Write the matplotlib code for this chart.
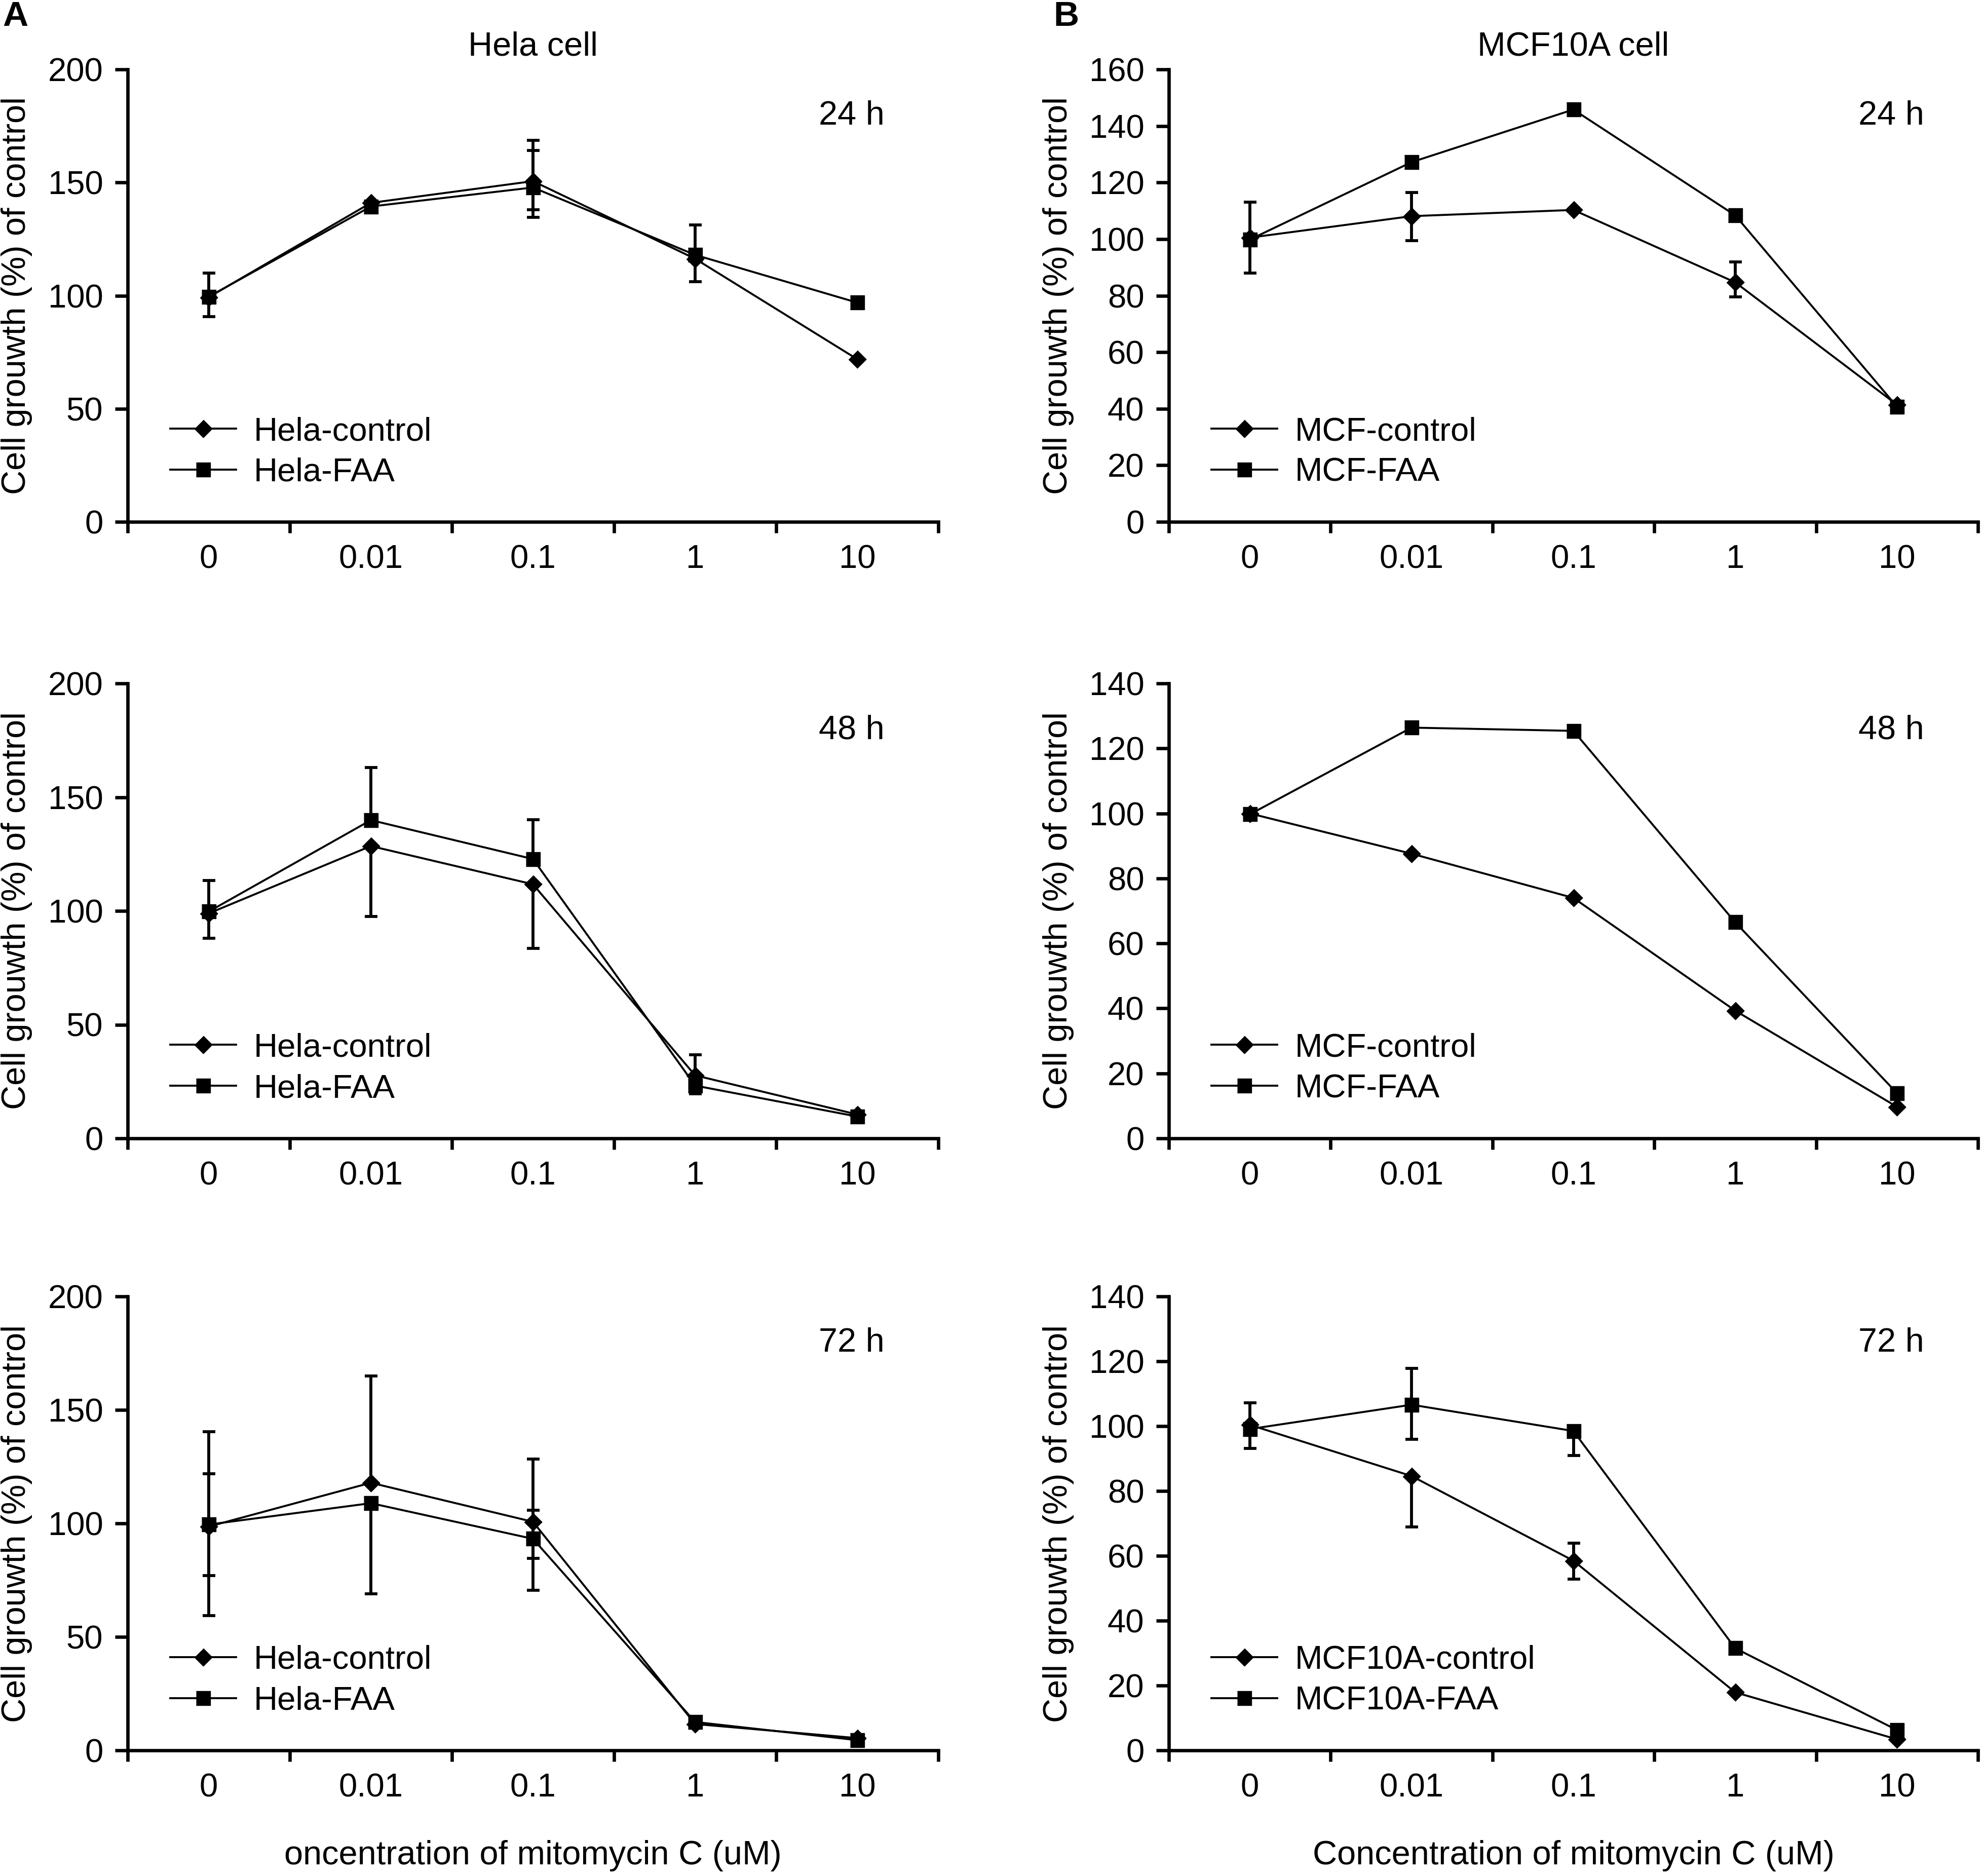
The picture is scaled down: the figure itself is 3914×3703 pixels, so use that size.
import numpy as np
import matplotlib
matplotlib.use('Agg')
import matplotlib.pyplot as plt
from matplotlib.ticker import FixedLocator, MultipleLocator

plt.rcParams['font.family'] = ['Liberation Sans', 'DejaVu Sans']

# ---------------- data ----------------
conc_labels = ['0', '0.01', '0.1', '1', '10']

# Hela 24 h
hela_ctrl_24 = [99.3, 141.0, 150.6, 116.3, 71.9]
hela_faa_24 = [99.5, 139.4, 147.8, 118.0, 96.9]
hela_ctrl_24_lo = [8.7, 0, 16.0, 0, 0]
hela_ctrl_24_hi = [10.7, 0, 18.0, 0, 0]
hela_faa_24_lo = [0, 0, 9.9, 11.8, 0]
hela_faa_24_hi = [0, 0, 16.4, 13.2, 0]

# Hela 48 h
hela_ctrl_48 = [98.9, 128.5, 111.7, 27.7, 10.5]
hela_faa_48 = [99.7, 139.9, 122.8, 23.2, 9.6]
hela_ctrl_48_lo = [11.0, 30.9, 28.2, 0, 0]
hela_ctrl_48_hi = [14.4, 0, 0, 9.0, 0]
hela_faa_48_lo = [0, 0, 0, 3.6, 0]
hela_faa_48_hi = [0, 23.1, 17.4, 0, 0]

# Hela 72 h
hela_ctrl_72 = [98.6, 117.9, 100.7, 11.6, 5.4]
hela_faa_72 = [99.5, 108.9, 93.2, 12.5, 4.5]
hela_ctrl_72_lo = [39.3, 0, 30.2, 0, 0]
hela_ctrl_72_hi = [41.9, 47.1, 27.7, 0, 0]
hela_faa_72_lo = [22.4, 40.0, 8.7, 0, 0]
hela_faa_72_hi = [22.4, 0, 12.7, 0, 0]

# MCF10A 24 h
mcf_ctrl_24 = [100.5, 108.1, 110.3, 84.7, 41.4]
mcf_faa_24 = [99.8, 127.2, 145.8, 108.4, 40.7]
mcf_ctrl_24_lo = [12.5, 8.7, 0, 5.2, 0]
mcf_ctrl_24_hi = [12.5, 8.3, 0, 7.3, 0]
mcf_faa_24_lo = [0, 0, 0, 0, 0]
mcf_faa_24_hi = [0, 0, 0, 0, 0]

# MCF10A 48 h
mcf_ctrl_48 = [100.0, 87.6, 74.0, 39.3, 9.7]
mcf_faa_48 = [99.7, 126.4, 125.4, 66.5, 13.9]

# MCF10A 72 h
mcf_ctrl_72 = [100.4, 84.6, 58.5, 17.9, 3.4]
mcf_faa_72 = [99.1, 106.6, 98.5, 31.5, 6.25]
mcf_ctrl_72_lo = [7.3, 15.7, 5.75, 0, 0]
mcf_ctrl_72_hi = [6.85, 0, 5.4, 0, 0]
mcf_faa_72_lo = [0, 10.6, 7.5, 0, 0]
mcf_faa_72_hi = [0, 11.15, 0, 0, 0]

panels = [
    # (row, col, ctrl, faa, ctrl_err, faa_err, ymax, ystep, time, labels)
    (0, 0, hela_ctrl_24, hela_faa_24, (hela_ctrl_24_lo, hela_ctrl_24_hi), (hela_faa_24_lo, hela_faa_24_hi), 200, 50, '24 h', ('Hela-control', 'Hela-FAA')),
    (1, 0, hela_ctrl_48, hela_faa_48, (hela_ctrl_48_lo, hela_ctrl_48_hi), (hela_faa_48_lo, hela_faa_48_hi), 200, 50, '48 h', ('Hela-control', 'Hela-FAA')),
    (2, 0, hela_ctrl_72, hela_faa_72, (hela_ctrl_72_lo, hela_ctrl_72_hi), (hela_faa_72_lo, hela_faa_72_hi), 200, 50, '72 h', ('Hela-control', 'Hela-FAA')),
    (0, 1, mcf_ctrl_24, mcf_faa_24, (mcf_ctrl_24_lo, mcf_ctrl_24_hi), (mcf_faa_24_lo, mcf_faa_24_hi), 160, 20, '24 h', ('MCF-control', 'MCF-FAA')),
    (1, 1, mcf_ctrl_48, mcf_faa_48, None, None, 140, 20, '48 h', ('MCF-control', 'MCF-FAA')),
    (2, 1, mcf_ctrl_72, mcf_faa_72, (mcf_ctrl_72_lo, mcf_ctrl_72_hi), (mcf_faa_72_lo, mcf_faa_72_hi), 140, 20, '72 h', ('MCF10A-control', 'MCF10A-FAA')),
]

col_titles = ['Hela cell', 'MCF10A cell']
col_xlabels = ['oncentration of mitomycin C (uM)', 'Concentration of mitomycin C (uM)']
panel_letters = ['A', 'B']

# ---------------- layout ----------------
W, H = 3914, 3703
DPI = 100
fig = plt.figure(figsize=(W / DPI, H / DPI), dpi=DPI)

col_px = [(252, 1852), (2307, 3904)]
row_px = [(137, 1030), (1349, 2247), (2559, 3455)]

DIAMOND = [(0, 1), (1, 0), (0, -1), (-1, 0)]
SQUARE = [(-1, -1), (1, -1), (1, 1), (-1, 1)]

SPINE_W = 4.8
ERR_W = 4.2
LINE_W = 2.8
TICK_FS = 47
TEXT_FS = 48

x = np.arange(len(conc_labels))

for (r, c, ctrl, faa, cerr, ferr, ymax, ystep, tlabel, leg) in panels:
    l, rr = col_px[c]
    t, b = row_px[r]
    ax = fig.add_axes([l / W, 1 - b / H, (rr - l) / W, (b - t) / H])

    if cerr is not None:
        ax.errorbar(x, ctrl, yerr=[cerr[0], cerr[1]], fmt='none', ecolor='black',
                    elinewidth=ERR_W, capsize=9, capthick=ERR_W, zorder=2)
        ax.errorbar(x, faa, yerr=[ferr[0], ferr[1]], fmt='none', ecolor='black',
                    elinewidth=ERR_W, capsize=9, capthick=ERR_W, zorder=2)
    ax.plot(x, ctrl, color='black', lw=LINE_W, marker=DIAMOND, ms=25,
            mfc='black', mec='black', mew=1, label=leg[0], zorder=4)
    ax.plot(x, faa, color='black', lw=LINE_W, marker=SQUARE, ms=19.5,
            mfc='black', mec='black', mew=1, label=leg[1], zorder=4)

    ax.set_xlim(-0.5, len(conc_labels) - 0.5)
    ax.set_ylim(0, ymax)
    ax.yaxis.set_major_locator(MultipleLocator(ystep))
    ax.set_xticks(x)
    ax.set_xticklabels(conc_labels)
    ax.xaxis.set_minor_locator(FixedLocator(np.arange(-0.5, len(conc_labels), 1.0)))

    for s in ['top', 'right']:
        ax.spines[s].set_visible(False)
    for s in ['left', 'bottom']:
        ax.spines[s].set_linewidth(SPINE_W)

    ax.tick_params(axis='y', which='major', direction='out', length=18, width=SPINE_W,
                   pad=17, labelsize=TICK_FS)
    ax.tick_params(axis='x', which='major', length=0, pad=32, labelsize=TICK_FS)
    ax.tick_params(axis='x', which='minor', direction='out', length=16, width=SPINE_W)

    ax.text(-0.1367, 0.5, 'Cell grouwth (%) of control', transform=ax.transAxes,
            rotation=90, ha='center', va='center', fontsize=48)
    ax.text(0.893, 0.897, tlabel, transform=ax.transAxes, ha='center', va='center',
            fontsize=TEXT_FS)

    ax.legend(loc='center left', bbox_to_anchor=(0.0524, 0.154), frameon=False,
              borderpad=0, borderaxespad=0, handlelength=2.0, handletextpad=0.52,
              labelspacing=0.32, fontsize=47, numpoints=1)

    if r == 0:
        ax.text(0.5, 1.05, col_titles[c], transform=ax.transAxes, ha='center',
                va='center', fontsize=TEXT_FS)
    if r == 2:
        ax.text(0.5, -0.232, col_xlabels[c], transform=ax.transAxes, ha='center',
                va='center', fontsize=48)

fig.text(30 / W, 1 - 33 / H, panel_letters[0], ha='center', va='center',
         fontsize=50, fontweight='bold')
fig.text(2104 / W, 1 - 33 / H, panel_letters[1], ha='center', va='center',
         fontsize=50, fontweight='bold')

fig.savefig('out.png', dpi=DPI)
